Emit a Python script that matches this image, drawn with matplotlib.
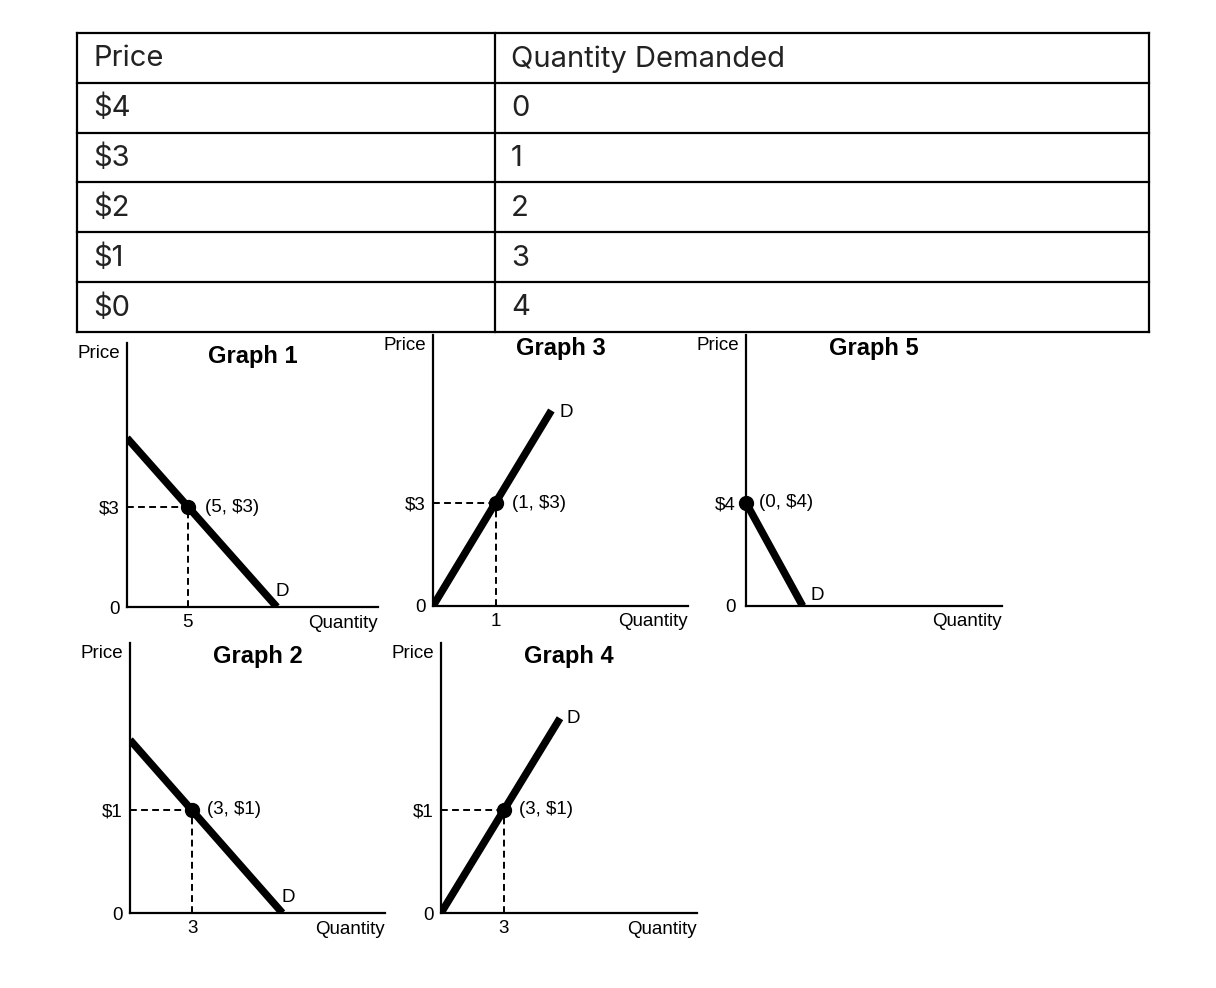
import matplotlib
matplotlib.use("Agg")
import matplotlib.pyplot as plt

W, H, DPI = 1216, 988, 100

# ---------------- data ----------------
table_header = ["Price", "Quantity Demanded"]
table_prices = ["$4", "$3", "$2", "$1", "$0"]
table_quantities = ["0", "1", "2", "3", "4"]

graph_titles = ["Graph 1", "Graph 2", "Graph 3", "Graph 4", "Graph 5"]
point_q = [5, 3, 1, 3, 0]
point_p = [3, 1, 3, 1, 4]
q_tick_labels = ["5", "3", "1", "3", None]
p_tick_labels = ["$3", "$1", "$3", "$1", "$4"]
point_labels = ["(5, $3)", "(3, $1)", "(1, $3)", "(3, $1)", "(0, $4)"]
demand_q = [[0, 12.3], [0, 7.35], [0, 1.88], [0, 5.67], [0, 2.2]]
demand_p = [[5.07, 0], [1.68, 0], [0, 5.7], [0, 1.89], [4, 0]]
q_max = [20.6, 12.3, 4.05, 12.2, 9.94]
p_max = [7.92, 2.62, 7.9, 2.62, 10.5]

# ---------------- layout (pixels) ----------------
boxes = [(127, 343, 378, 607), (130, 643, 385, 913), (433, 335, 688, 606),
         (441, 643, 697, 913), (746, 335, 1002, 606)]
d_offsets = [(-1, 15), (-1, 16), (8, -2), (7, 0), (8, 11)]
lbl_offsets = [17, 15, 16, 15, 13]
y_pads = [5, 5, 5, 5, 7.5]

fig = plt.figure(figsize=(W / DPI, H / DPI), dpi=DPI)
fig.patch.set_facecolor("white")

GFONT = ["Liberation Sans", "DejaVu Sans"]
TFONT = ["Inter", "DejaVu Sans"]

# ---------------- table ----------------
tab = fig.add_axes([0, 0, 1, 1])
tab.set_xlim(0, W)
tab.set_ylim(H, 0)
tab.axis("off")
tx0, tx1, tcol = 77, 1149, 495
ty0, row_h = 33, 49.8
rows = [table_header] + [[p, q] for p, q in zip(table_prices, table_quantities)]
n = len(rows)
lw_t = 1.6
for i in range(n + 1):
    y = ty0 + i * row_h
    tab.plot([tx0, tx1], [y, y], color="black", lw=lw_t, solid_capstyle="projecting")
for x in (tx0, tcol, tx1):
    tab.plot([x, x], [ty0, ty0 + n * row_h], color="black", lw=lw_t, solid_capstyle="projecting")
for i, (a, b) in enumerate(rows):
    yc = ty0 + (i + 0.5) * row_h + 1
    tab.text(tx0 + 16, yc, a, fontsize=21, family=TFONT, color="#222222", va="center", ha="left")
    tab.text(tcol + 16, yc, b, fontsize=21, family=TFONT, color="#222222", va="center", ha="left")

# ---------------- graphs ----------------
FS = 13.5
for g in range(5):
    l, t, r, b = boxes[g]
    ax = fig.add_axes([l / W, 1 - b / H, (r - l) / W, (b - t) / H])
    ax.set_facecolor("none")
    ax.set_xlim(0, q_max[g])
    ax.set_ylim(0, p_max[g])
    for s in ("top", "right"):
        ax.spines[s].set_visible(False)
    for s in ("left", "bottom"):
        ax.spines[s].set_linewidth(1.6)
        ax.spines[s].set_color("black")

    # ticks
    ax.set_yticks([0, point_p[g]])
    ax.set_yticklabels(["0", p_tick_labels[g]], fontsize=FS, family=GFONT)
    if q_tick_labels[g] is not None:
        ax.set_xticks([point_q[g]])
        ax.set_xticklabels([q_tick_labels[g]], fontsize=FS, family=GFONT)
    else:
        ax.set_xticks([])
    ax.tick_params(axis="both", length=0)
    ax.tick_params(axis="y", pad=y_pads[g])
    ax.tick_params(axis="x", pad=5)

    # dashed guides
    if point_q[g] > 0:
        ax.plot([0, point_q[g]], [point_p[g], point_p[g]], color="black", lw=1.4,
                ls=(0, (3.5, 2.2)), zorder=2)
        ax.plot([point_q[g], point_q[g]], [0, point_p[g]], color="black", lw=1.4,
                ls=(0, (3.5, 2.2)), zorder=2)

    # demand curve
    ax.plot(demand_q[g], demand_p[g], color="black", lw=5.4, solid_capstyle="butt",
            zorder=3, clip_on=True)
    ax.plot([point_q[g]], [point_p[g]], "o", color="black", ms=10, zorder=4, clip_on=False)

    # point label
    ax.annotate(point_labels[g], (point_q[g], point_p[g]), xytext=(lbl_offsets[g], 0),
                textcoords="offset pixels", fontsize=FS, family=GFONT, ha="left", va="center")
    # D label at the far end of the curve
    end = 1 if demand_q[g][1] > demand_q[g][0] else 0
    ax.annotate("D", (demand_q[g][end], demand_p[g][end]), xytext=d_offsets[g],
                textcoords="offset pixels", fontsize=FS, family=GFONT, ha="left", va="center",
                annotation_clip=False)

    # axis names and title
    ax.annotate("Price", (0, 1), xycoords="axes fraction", xytext=(-7, -10),
                textcoords="offset pixels", fontsize=FS, family=GFONT, ha="right", va="center")
    ax.annotate("Quantity", (1, 0), xycoords="axes fraction", xytext=(0, -16),
                textcoords="offset pixels", fontsize=FS, family=GFONT, ha="right", va="center")
    ax.annotate(graph_titles[g], (0.5, 1), xycoords="axes fraction", xytext=(0, -13),
                textcoords="offset pixels", fontsize=17, family=GFONT, weight="bold",
                ha="center", va="center")

fig.savefig("out.png", dpi=DPI)
